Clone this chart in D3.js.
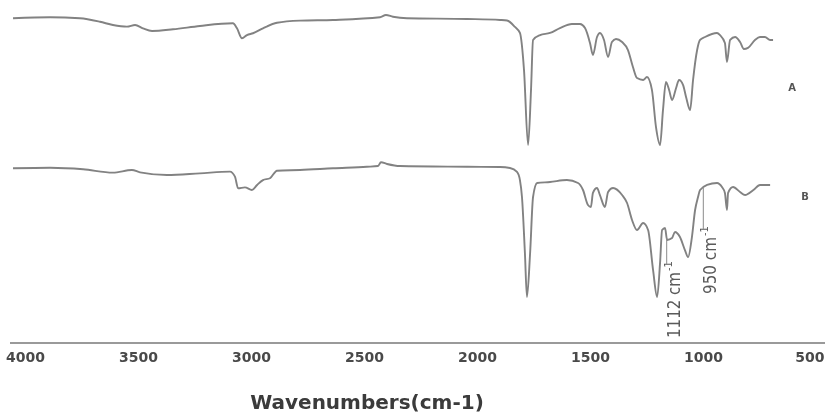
<!DOCTYPE html>
<html>
<head>
<meta charset="utf-8">
<script src="https://cdn.jsdelivr.net/npm/d3@7"></script>
<style>
  html, body { margin: 0; padding: 0; background: #fff; }
  svg { display: block; }
</style>
</head>
<body>
<svg id="chart" width="825" height="415"></svg>
<script>
// FTIR spectra of samples A and B (transmittance, %), wavenumber in cm-1
const tickValues = [4000, 3500, 3000, 2500, 2000, 1500, 1000, 500];
const seriesNames = ["A", "B"];

const wnA = [4053, 3889, 3757, 3668, 3611, 3549, 3513, 3478, 3438, 3345, 3226, 3080, 3062, 3040, 3018, 2991, 2947, 2885, 2783, 2637, 2429, 2403, 2372, 2310, 2044, 1898, 1867, 1832, 1810, 1792, 1774, 1761, 1752, 1721, 1677, 1633, 1580, 1544, 1522, 1500, 1487, 1469, 1456, 1438, 1420, 1403, 1385, 1358, 1332, 1310, 1292, 1265, 1248, 1226, 1208, 1190, 1177, 1164, 1150, 1137, 1119, 1106, 1088, 1075, 1057, 1044, 1026, 1013, 991, 938, 925, 903, 894, 880, 858, 836, 819, 801, 770, 748, 726, 703, 690];
const tA = [94.1, 94.8, 94.1, 91.6, 89.3, 88.1, 89.3, 86.9, 85.0, 86.2, 88.6, 90.5, 86.9, 79.8, 82.1, 83.4, 86.9, 90.9, 92.4, 92.9, 94.8, 96.4, 95.2, 94.1, 93.6, 92.9, 92.5, 87.9, 83.6, 57.1, 3.6, 42.9, 78.6, 82.1, 83.6, 87.1, 90.0, 90.0, 87.1, 76.4, 67.9, 80.7, 83.6, 78.6, 66.4, 77.1, 79.3, 77.1, 71.4, 59.3, 51.4, 50.0, 52.1, 42.9, 16.4, 3.6, 28.6, 48.6, 42.9, 35.7, 44.3, 50.0, 46.4, 37.9, 28.6, 50.0, 71.4, 78.6, 80.7, 83.6, 82.1, 76.4, 62.9, 78.6, 80.7, 77.1, 72.1, 72.9, 78.6, 80.7, 80.7, 78.6, 78.6];

const wnB = [4053, 3889, 3743, 3611, 3527, 3491, 3372, 3226, 3093, 3071, 3057, 3027, 2996, 2973, 2947, 2916, 2885, 2783, 2637, 2487, 2438, 2425, 2398, 2341, 2044, 1898, 1854, 1823, 1810, 1801, 1788, 1779, 1765, 1752, 1734, 1677, 1602, 1553, 1531, 1509, 1496, 1487, 1469, 1456, 1434, 1420, 1398, 1358, 1336, 1314, 1292, 1265, 1243, 1221, 1203, 1190, 1181, 1168, 1159, 1137, 1124, 1102, 1080, 1066, 1049, 1035, 1022, 1013, 982, 938, 916, 903, 894, 889, 867, 836, 814, 777, 748, 717, 703];
const tB = [95.5, 95.9, 94.8, 92.4, 94.3, 92.6, 90.7, 91.9, 93.1, 89.5, 81.2, 81.9, 80.0, 83.6, 87.1, 88.4, 93.8, 94.3, 95.5, 96.6, 97.1, 99.8, 98.6, 97.1, 96.6, 96.4, 95.7, 92.9, 87.1, 75.0, 35.0, 3.6, 35.0, 75.0, 85.0, 85.7, 87.1, 85.0, 80.0, 69.3, 67.9, 77.9, 81.4, 76.4, 67.9, 78.6, 81.4, 76.4, 70.7, 58.6, 51.4, 56.4, 51.4, 22.9, 3.6, 27.9, 51.4, 52.9, 44.3, 45.7, 50.0, 46.4, 37.1, 32.1, 46.4, 65.7, 75.0, 80.0, 83.6, 85.0, 82.1, 77.9, 65.7, 77.9, 82.1, 78.6, 76.4, 80.0, 83.6, 83.6, 83.6];

// marked bands on spectrum B
const peakLabels = [1112, 950];

const svg = d3.select("#chart");
const defs = svg.append("defs");
defs.append("filter").attr("id", "soft")
  .attr("x", "-5%").attr("y", "-5%").attr("width", "110%").attr("height", "110%")
  .append("feGaussianBlur").attr("stdDeviation", 0.55);

const root = svg.append("g").attr("filter", "url(#soft)");

const x = d3.scaleLinear().domain([4000, 500]).range([25, 816]);
const yA = d3.scaleLinear().domain([0, 100]).range([150, 10]);
const yB = d3.scaleLinear().domain([0, 100]).range([302, 162]);

const traceColor = "#828282";

function drawTrace(wn, t, y) {
  const pts = wn.map((w, i) => [w, t[i]]);
  const line = d3.line()
    .x(d => x(d[0]))
    .y(d => y(d[1]))
    .curve(d3.curveMonotoneX);
  root.append("path")
    .datum(pts)
    .attr("d", line)
    .attr("fill", "none")
    .attr("stroke", traceColor)
    .attr("stroke-width", 1.9)
    .attr("stroke-linejoin", "round");
}

drawTrace(wnA, tA, yA);
drawTrace(wnB, tB, yB);

// sample letters at the right end of each trace
root.append("text").text(seriesNames[0])
  .attr("x", 792).attr("y", 91)
  .attr("text-anchor", "middle")
  .attr("font-family", "DejaVu Sans, sans-serif")
  .attr("font-weight", "bold").attr("font-size", 10)
  .attr("fill", "#555");
root.append("text").text(seriesNames[1])
  .attr("x", 805).attr("y", 200)
  .attr("text-anchor", "middle")
  .attr("font-family", "DejaVu Sans, sans-serif")
  .attr("font-weight", "bold").attr("font-size", 10)
  .attr("fill", "#555");

// band annotations: rotated labels with a leader up to trace B
const bInterp = d3.scaleLinear().domain(wnB).range(tB);
const annStart = { 1112: 338, 950: 294 };
const annLen = { 1112: 66, 950: 57 };
peakLabels.forEach(wn => {
  const bx = x(wn) + 2;
  const g = root.append("g")
    .attr("transform", `translate(${bx},${annStart[wn]}) rotate(-90)`);
  g.append("text")
    .text(`${wn} cm`)
    .attr("x", 0).attr("y", 0)
    .attr("font-family", "'Liberation Sans Narrow', 'DejaVu Sans Condensed', sans-serif")
    .attr("font-size", 18)
    .attr("textLength", annLen[wn])
    .attr("lengthAdjust", "spacingAndGlyphs")
    .attr("fill", "#5a5a5a");
  g.append("text")
    .text("-1")
    .attr("x", annLen[wn] + 1).attr("y", -8)
    .attr("font-family", "'Liberation Sans Narrow', 'DejaVu Sans Condensed', sans-serif")
    .attr("font-size", 11)
    .attr("fill", "#5a5a5a");
  const lx = bx - 13;
  const topT = bInterp(x.invert(lx));
  root.append("line")
    .attr("x1", lx).attr("x2", lx)
    .attr("y1", yB(topT)).attr("y2", annStart[wn] - annLen[wn] - 8)
    .attr("stroke", "#8a8a8a").attr("stroke-width", 1);
});

// x axis baseline across the full width
root.append("line")
  .attr("x1", 10).attr("x2", 825)
  .attr("y1", 343).attr("y2", 343)
  .attr("stroke", "#9a9a9a").attr("stroke-width", 2);

const axis = d3.axisBottom(x)
  .tickValues(tickValues)
  .tickFormat(d3.format("d"))
  .tickSize(0)
  .tickPadding(9);

const axG = root.append("g")
  .attr("transform", "translate(0,343)")
  .call(axis);
axG.select(".domain").remove();
axG.selectAll("text")
  .attr("font-family", "DejaVu Sans, sans-serif")
  .attr("font-weight", "bold")
  .attr("font-size", 14)
  .attr("fill", "#4a4a4a");
// keep the last label inside the right edge
axG.selectAll(".tick").filter(d => d === 500).select("text")
  .attr("text-anchor", "end")
  .attr("dx", 8);

root.append("text")
  .text("Wavenumbers(cm-1)")
  .attr("x", 367).attr("y", 409)
  .attr("text-anchor", "middle")
  .attr("font-family", "DejaVu Sans, sans-serif")
  .attr("font-weight", "bold")
  .attr("font-size", 20)
  .attr("fill", "#3a3a3a");
</script>
</body>
</html>
